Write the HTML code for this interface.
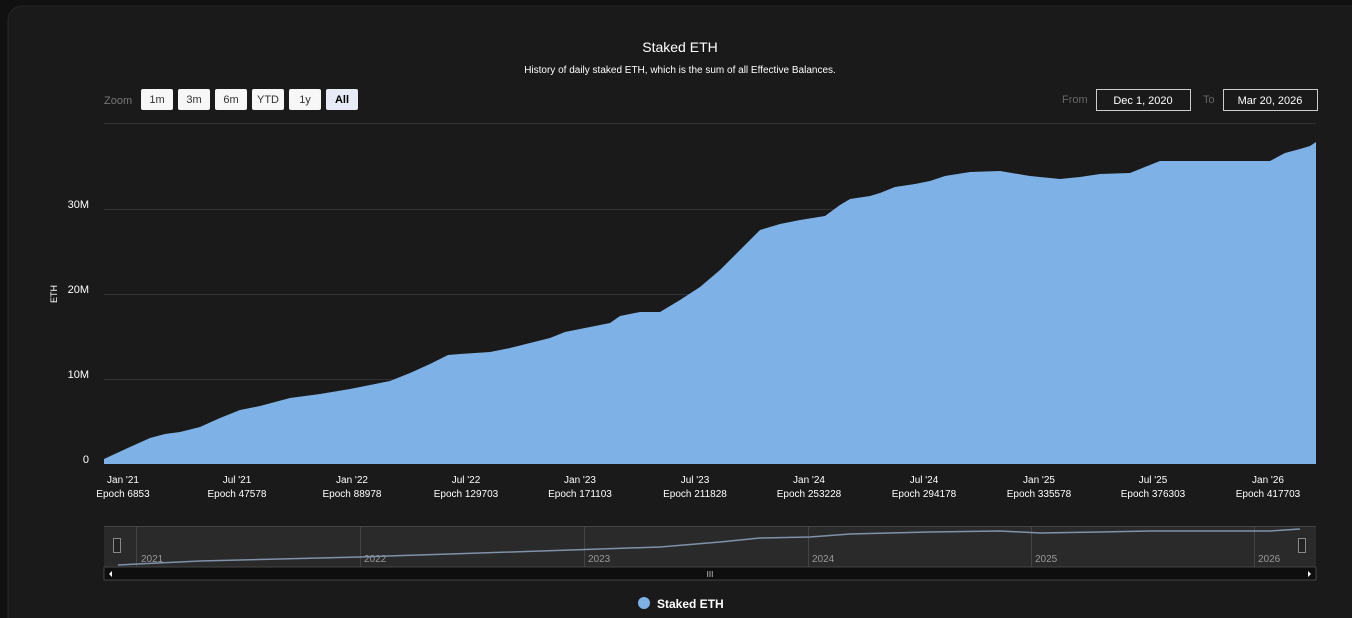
<!DOCTYPE html>
<html><head><style>
body{margin:0;background:#111;width:1352px;height:618px;overflow:hidden;font-family:"Liberation Sans",sans-serif;}
</style></head><body>
<svg width="1352" height="618" xmlns="http://www.w3.org/2000/svg" style="position:absolute;left:0;top:0">
<rect x="0" y="0" width="1352" height="618" fill="#111"/>
<rect x="8" y="6" width="1360" height="640" rx="14" fill="#1a1a1a" stroke="#262626"/>
<g font-family="Liberation Sans, sans-serif">
<text x="680" y="52" fill="#fff" font-size="14" text-anchor="middle">Staked ETH</text>
<text x="680" y="73" fill="#fff" font-size="10" text-anchor="middle">History of daily staked ETH, which is the sum of all Effective Balances.</text>
<text x="104" y="104" fill="#777" font-size="11">Zoom</text>
<g font-size="11" text-anchor="middle">
<rect x="141" y="89" width="32" height="21" rx="2" fill="#f7f7f7"/><text x="157" y="103" fill="#333">1m</text>
<rect x="178" y="89" width="32" height="21" rx="2" fill="#f7f7f7"/><text x="194" y="103" fill="#333">3m</text>
<rect x="215" y="89" width="32" height="21" rx="2" fill="#f7f7f7"/><text x="231" y="103" fill="#333">6m</text>
<rect x="252" y="89" width="32" height="21" rx="2" fill="#f7f7f7"/><text x="268" y="103" fill="#333">YTD</text>
<rect x="289" y="89" width="32" height="21" rx="2" fill="#f7f7f7"/><text x="305" y="103" fill="#333">1y</text>
<rect x="326" y="89" width="32" height="21" rx="2" fill="#e6ebf5"/><text x="342" y="103" fill="#000" font-weight="bold">All</text>
</g>
<text x="1062" y="103" fill="#666" font-size="11">From</text>
<rect x="1096.5" y="89.5" width="94" height="21" fill="none" stroke="#ccc"/>
<text x="1143" y="104" fill="#fff" font-size="11" text-anchor="middle">Dec 1, 2020</text>
<text x="1203" y="103" fill="#666" font-size="11">To</text>
<rect x="1223.5" y="89.5" width="94" height="21" fill="none" stroke="#ccc"/>
<text x="1270" y="104" fill="#fff" font-size="11" text-anchor="middle">Mar 20, 2026</text>
<g stroke="#333" stroke-width="1">
<line x1="104" y1="123.5" x2="1316" y2="123.5"/>
<line x1="104" y1="209.5" x2="1316" y2="209.5"/>
<line x1="104" y1="294.5" x2="1316" y2="294.5"/>
<line x1="104" y1="379.5" x2="1316" y2="379.5"/>
</g>
<path fill="#7eb2e6" d="M104,464 L104,459 L130,447 L150,438 L165,434 L180,432 L200,427 L220,418 L240,410 L260,406 L290,398 L320,394 L350,389 L390,381 L410,373 L430,364 L448,355 L460,354 L490,352 L510,348 L530,343 L550,338 L565,332 L590,327 L610,323 L620,316 L640,312 L660,312 L680,300 L700,287 L720,270 L740,250 L760,230 L780,224 L800,220 L825,216 L840,205 L850,199 L870,196 L880,193 L895,187 L915,184 L930,181 L945,176 L970,172 L1000,171 L1030,176 L1060,179 L1080,177 L1100,174 L1130,173 L1160,161 L1200,161 L1240,161 L1270,161 L1285,153 L1300,149 L1310,146 L1316,142 L1316,464 Z"/>
<g fill="#fff" font-size="11" text-anchor="end">
<text x="89" y="463">0</text><text x="89" y="378">10M</text><text x="89" y="293">20M</text><text x="89" y="208">30M</text>
</g>
<text transform="translate(57,294) rotate(-90)" fill="#fff" font-size="9" text-anchor="middle">ETH</text>
<g fill="#fff" font-size="10" text-anchor="middle">
<text x="123" y="483">Jan '21</text><text x="123" y="497">Epoch 6853</text>
<text x="237" y="483">Jul '21</text><text x="237" y="497">Epoch 47578</text>
<text x="352" y="483">Jan '22</text><text x="352" y="497">Epoch 88978</text>
<text x="466" y="483">Jul '22</text><text x="466" y="497">Epoch 129703</text>
<text x="580" y="483">Jan '23</text><text x="580" y="497">Epoch 171103</text>
<text x="695" y="483">Jul '23</text><text x="695" y="497">Epoch 211828</text>
<text x="809" y="483">Jan '24</text><text x="809" y="497">Epoch 253228</text>
<text x="924" y="483">Jul '24</text><text x="924" y="497">Epoch 294178</text>
<text x="1039" y="483">Jan '25</text><text x="1039" y="497">Epoch 335578</text>
<text x="1153" y="483">Jul '25</text><text x="1153" y="497">Epoch 376303</text>
<text x="1268" y="483">Jan '26</text><text x="1268" y="497">Epoch 417703</text>
</g>
<rect x="104" y="526.5" width="1212" height="41" fill="#2a2a2a"/>
<line x1="104" y1="526.5" x2="1316" y2="526.5" stroke="#444"/>
<g stroke="#444">
<line x1="136.5" y1="527" x2="136.5" y2="567"/><line x1="360.5" y1="527" x2="360.5" y2="567"/><line x1="584.5" y1="527" x2="584.5" y2="567"/><line x1="808.5" y1="527" x2="808.5" y2="567"/><line x1="1031.5" y1="527" x2="1031.5" y2="567"/><line x1="1254.5" y1="527" x2="1254.5" y2="567"/>
</g>
<g fill="#999" font-size="10">
<text x="141" y="562">2021</text><text x="364" y="562">2022</text><text x="588" y="562">2023</text><text x="812" y="562">2024</text><text x="1035" y="562">2025</text><text x="1258" y="562">2026</text>
</g>
<polyline fill="none" stroke="#7f92a8" stroke-width="1.5" points="118,565 200,561 360,557 480,553 600,549 660,547 720,542 760,538 810,537 850,534 930,532 1000,531 1040,533 1100,532 1150,531 1270,531 1300,529"/>
<rect x="104" y="567" width="1212" height="13" fill="#0e0e0e" stroke="#444"/>
<rect x="113.5" y="538.5" width="7" height="14" fill="#222" stroke="#888"/>
<rect x="1298.5" y="538.5" width="7" height="14" fill="#222" stroke="#888"/>
<text x="710" y="577" fill="#ccc" font-size="8" text-anchor="middle">III</text>
<path d="M112,571 L109,574 L112,577 Z" fill="#fff"/>
<path d="M1308,571 L1311,574 L1308,577 Z" fill="#fff"/>
<circle cx="644" cy="603" r="6" fill="#7eb2e6"/>
<text x="657" y="608" fill="#fff" font-size="12" font-weight="bold">Staked ETH</text>
</g>
</svg>
</body></html>
